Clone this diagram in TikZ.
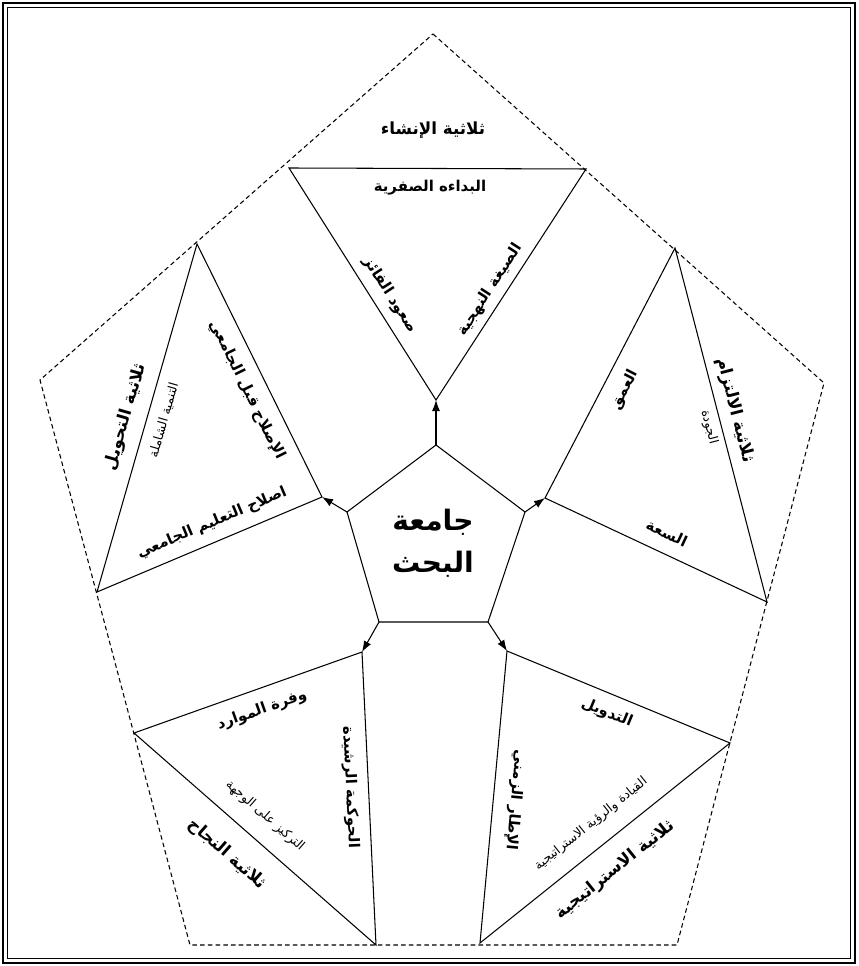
\documentclass[tikz,border=0pt]{standalone}
\usepackage{fontspec}
\usepackage{tikz}
\usetikzlibrary{arrows.meta}
\newfontfamily\arabicfont[Script=Arabic]{DejaVu Sans}
\TeXXeTstate=1
\newcommand{\artxt}[1]{\beginR #1\endR}

\begin{document}
\begin{tikzpicture}[x=0.2mm, y=-0.2mm, >={Latex[length=2.2mm,width=1.6mm]},
    edge/.style={line width=0.6pt},
    outline/.style={line width=0.6pt, dash pattern=on 2.6pt off 1.8pt},
    ttl/.style={font=\arabicfont\bfseries\fontsize{9.5}{11}\selectfont, inner sep=0pt},
    lbl/.style={font=\arabicfont\bfseries\fontsize{8.5}{10}\selectfont, inner sep=0pt},
    sublbl/.style={font=\arabicfont\fontsize{7.2}{8}\selectfont, inner sep=0pt}]
    \useasboundingbox (0,0) rectangle (858,966);

    % Frame
    \draw[line width=1pt] (3,3) rectangle (855,963);
    \draw[line width=0.6pt] (7.5,7.5) rectangle (850.5,958.5);

    % Outer dashed pentagon
    \coordinate (P1) at (433,34);
    \coordinate (P2) at (824,383);
    \coordinate (P3) at (677,945);
    \coordinate (P4) at (190,945);
    \coordinate (P5) at (40,380);
    \draw[outline] (P1) -- (P2) -- (P3) -- (P4) -- (P5) -- cycle;

    % Center pentagon
    \coordinate (C1) at (436,445);
    \coordinate (C2) at (525,512);
    \coordinate (C3) at (488,622);
    \coordinate (C4) at (379,622);
    \coordinate (C5) at (347,512);
    \draw[edge] (C1) -- (C2) -- (C3) -- (C4) -- (C5) -- cycle;
    \node[font=\arabicfont\bfseries\fontsize{16}{24}\selectfont, align=center] (hub) at (433,543)
        {\artxt{جامعة}\\\artxt{البحث}};

    % Top triangle
    \coordinate (TopA) at (289,168);
    \coordinate (TopB) at (586,169);
    \coordinate (TopC) at (436,400);
    \draw[edge] (TopA) -- (TopB) -- (TopC) -- cycle;
    \node[ttl] (ttlTop) at (433,130) {\artxt{ثلاثية الإنشاء}};
    \node[lbl] (topBase) at (430,188) {\artxt{البداءه الصفرية}};
    \node[lbl, rotate=-57] (topLeft) at (390,295) {\artxt{صعود الفائز}};
    \node[lbl, rotate=57] (topRight) at (490,290) {\artxt{الصيغة النهجية}};

    % Left triangle
    \coordinate (LeftA) at (197,244);
    \coordinate (LeftB) at (322,497);
    \coordinate (LeftC) at (97,592);
    \draw[edge] (LeftA) -- (LeftB) -- (LeftC) -- cycle;
    \node[ttl, rotate=74] (ttlLeft) at (126,417) {\artxt{ثلاثية التحويل}};
    \node[sublbl, rotate=74] (leftOuter) at (164,420) {\artxt{التنمية الشاملة}};
    \node[lbl, rotate=-63.7] (leftRight) at (247,390) {\artxt{الإصلاح قبل الجامعي}};
    \node[lbl, rotate=22.9] (leftBase) at (212,523) {\artxt{اصلاح التعليم الجامعي}};

    % Right triangle
    \coordinate (RightA) at (675,248);
    \coordinate (RightB) at (545,498);
    \coordinate (RightC) at (767,602);
    \draw[edge] (RightA) -- (RightB) -- (RightC) -- cycle;
    \node[lbl, rotate=62.6] (rightLeft) at (625,390) {\artxt{العمق}};
    \node[lbl, rotate=-25] (rightBase) at (667,533) {\artxt{السعة}};
    \node[sublbl, rotate=-75.5] (rightInner) at (709,427) {\artxt{الجودة}};
    \node[ttl, rotate=-75.5] (ttlRight) at (735,410) {\artxt{ثلاثية الالتزام}};

    % Bottom-left triangle
    \coordinate (BotLA) at (362,652);
    \coordinate (BotLB) at (134,733);
    \coordinate (BotLC) at (376,945);
    \draw[edge] (BotLA) -- (BotLB) -- (BotLC) -- cycle;
    \node[lbl, rotate=19.6] (botLTop) at (262,710) {\artxt{وفرة الموارد}};
    \node[lbl, rotate=-87.3] (botLRight) at (350,787) {\artxt{الحوكمة الرشيدة}};
    \node[sublbl, rotate=-41.2] (botLInner) at (265,816) {\artxt{التركيز على الوجهة}};
    \node[ttl, rotate=-41.2] (ttlBotL) at (227,854) {\artxt{ثلاثية النجاح}};

    % Bottom-right triangle
    \coordinate (BotRA) at (507,651);
    \coordinate (BotRB) at (730,743);
    \coordinate (BotRC) at (480,943);
    \draw[edge] (BotRA) -- (BotRB) -- (BotRC) -- cycle;
    \node[lbl, rotate=-22.4] (botRTop) at (607,713) {\artxt{التدويل}};
    \node[lbl, rotate=-95.3] (botRLeft) at (515,800) {\artxt{الإطار الزمني}};
    \node[sublbl, rotate=38.7] (botRInner) at (591,824) {\artxt{القيادة والرؤية الاستراتيجية}};
    \node[ttl, rotate=38.7] (ttlBotR) at (615,870) {\artxt{ثلاثية الاستراتيجية}};

    % Arrows from the hub to the triangles
    \draw[edge, ->] (C1) -- (TopC);
    \draw[edge, ->] (C2) -- (RightB);
    \draw[edge, ->] (C3) -- (BotRA);
    \draw[edge, ->] (C4) -- (BotLA);
    \draw[edge, ->] (C5) -- (LeftB);

\end{tikzpicture}
\end{document}
